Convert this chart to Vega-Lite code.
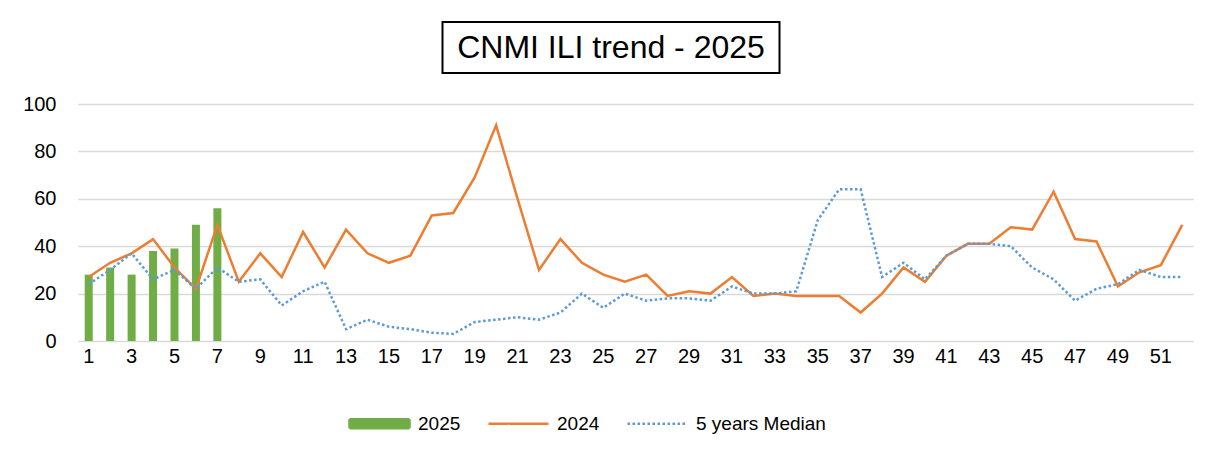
{
  "$schema": "https://vega.github.io/schema/vega-lite/v6.json",
  "background": "white",
  "padding": {"top": 21, "left": 22, "right": 20, "bottom": 5},
  "config": {"font": "Liberation Sans", "view": {"stroke": null}},
  "center": true,
  "spacing": 20,
  "vconcat": [
    {
      "spacing": 0,
      "hconcat": [
        {
          "width": 337,
          "height": 51,
          "view": {"stroke": "#000", "strokeWidth": 2},
          "data": {"values": [{"t": "CNMI ILI trend - 2025"}]},
          "mark": {"type": "text", "font": "Liberation Sans", "fontSize": 32, "color": "#000", "align": "center", "baseline": "middle"},
          "encoding": {"text": {"field": "t"}}
        },
        {
          "width": 48,
          "height": 51,
          "data": {"values": [{"t": ""}]},
          "mark": {"type": "text"},
          "encoding": {"text": {"field": "t"}}
        }
      ]
    },
    {
      "width": 1115,
      "height": 237,
      "data": {"values": [
        {"week": 1, "y2025": 28, "y2024": 27, "median": 24},
        {"week": 2, "y2025": 31, "y2024": 33, "median": 30},
        {"week": 3, "y2025": 28, "y2024": 37, "median": 37},
        {"week": 4, "y2025": 38, "y2024": 43, "median": 26},
        {"week": 5, "y2025": 39, "y2024": 31, "median": 30},
        {"week": 6, "y2025": 49, "y2024": 22, "median": 22},
        {"week": 7, "y2025": 56, "y2024": 49, "median": 31},
        {"week": 8, "y2025": null, "y2024": 25, "median": 25},
        {"week": 9, "y2025": null, "y2024": 37, "median": 26},
        {"week": 10, "y2025": null, "y2024": 27, "median": 15},
        {"week": 11, "y2025": null, "y2024": 46, "median": 21},
        {"week": 12, "y2025": null, "y2024": 31, "median": 25},
        {"week": 13, "y2025": null, "y2024": 47, "median": 5},
        {"week": 14, "y2025": null, "y2024": 37, "median": 9},
        {"week": 15, "y2025": null, "y2024": 33, "median": 6},
        {"week": 16, "y2025": null, "y2024": 36, "median": 5},
        {"week": 17, "y2025": null, "y2024": 53, "median": 3.5},
        {"week": 18, "y2025": null, "y2024": 54, "median": 3},
        {"week": 19, "y2025": null, "y2024": 69, "median": 8},
        {"week": 20, "y2025": null, "y2024": 91, "median": 9},
        {"week": 21, "y2025": null, "y2024": 60, "median": 10},
        {"week": 22, "y2025": null, "y2024": 30, "median": 9},
        {"week": 23, "y2025": null, "y2024": 43, "median": 12},
        {"week": 24, "y2025": null, "y2024": 33, "median": 20},
        {"week": 25, "y2025": null, "y2024": 28, "median": 14},
        {"week": 26, "y2025": null, "y2024": 25, "median": 20},
        {"week": 27, "y2025": null, "y2024": 28, "median": 17},
        {"week": 28, "y2025": null, "y2024": 19, "median": 18},
        {"week": 29, "y2025": null, "y2024": 21, "median": 18},
        {"week": 30, "y2025": null, "y2024": 20, "median": 17},
        {"week": 31, "y2025": null, "y2024": 27, "median": 23},
        {"week": 32, "y2025": null, "y2024": 19, "median": 20},
        {"week": 33, "y2025": null, "y2024": 20, "median": 20},
        {"week": 34, "y2025": null, "y2024": 19, "median": 21},
        {"week": 35, "y2025": null, "y2024": 19, "median": 51},
        {"week": 36, "y2025": null, "y2024": 19, "median": 64},
        {"week": 37, "y2025": null, "y2024": 12, "median": 64},
        {"week": 38, "y2025": null, "y2024": 20, "median": 27},
        {"week": 39, "y2025": null, "y2024": 31, "median": 33},
        {"week": 40, "y2025": null, "y2024": 25, "median": 26},
        {"week": 41, "y2025": null, "y2024": 36, "median": 36},
        {"week": 42, "y2025": null, "y2024": 41, "median": 41},
        {"week": 43, "y2025": null, "y2024": 41, "median": 41},
        {"week": 44, "y2025": null, "y2024": 48, "median": 40},
        {"week": 45, "y2025": null, "y2024": 47, "median": 31},
        {"week": 46, "y2025": null, "y2024": 63, "median": 26},
        {"week": 47, "y2025": null, "y2024": 43, "median": 17},
        {"week": 48, "y2025": null, "y2024": 42, "median": 22},
        {"week": 49, "y2025": null, "y2024": 23, "median": 24},
        {"week": 50, "y2025": null, "y2024": 29, "median": 30},
        {"week": 51, "y2025": null, "y2024": 32, "median": 27},
        {"week": 52, "y2025": null, "y2024": 49, "median": 27}
      ]},
      "encoding": {
        "x": {
          "field": "week",
          "type": "ordinal",
          "scale": {"paddingInner": 0, "paddingOuter": 0},
          "axis": {
            "title": null,
            "values": [1,3,5,7,9,11,13,15,17,19,21,23,25,27,29,31,33,35,37,39,41,43,45,47,49,51],
            "labelAngle": 0,
            "domain": false,
            "ticks": false,
            "grid": false,
            "labelFontSize": 20,
            "labelColor": "#000",
            "labelPadding": 5
          }
        }
      },
      "layer": [
        {
          "mark": {"type": "bar", "size": 8},
          "encoding": {
            "y": {
              "field": "y2025",
              "type": "quantitative",
              "scale": {"domain": [0, 100]},
              "axis": {
                "title": null,
                "values": [0, 20, 40, 60, 80, 100],
                "grid": true,
                "gridColor": "#d9d9d9",
                "gridWidth": 1.5,
                "domain": false,
                "ticks": false,
                "labelFontSize": 20,
                "labelColor": "#000",
                "labelPadding": 22
              }
            },
            "color": {
              "datum": "2025",
              "scale": {"domain": ["2025", "2024", "5 years Median"], "range": ["#70AD47", "#ED7D31", "#5B9BD5"]},
              "legend": {
                "title": null,
                "orient": "none",
                "legendX": 270,
                "legendY": 370,
                "direction": "horizontal",
                "padding": 0,
                "symbolSize": 3600,
                "labelOffset": 7,
                "columnPadding": 22,
                "labelFontSize": 19,
                "labelColor": "#000",
                "labelFont": "Liberation Sans",
                "encode": {
                  "symbols": {
                    "update": {
                      "shape": {"signal": "datum.value === '2025' ? 'M-1,-0.15H1V0.15H-1Z' : 'M-1,0H1'"},
                      "fill": {"signal": "datum.value === '2025' ? '#70AD47' : 'transparent'"},
                      "stroke": {"signal": "datum.value === '2025' ? 'transparent' : (datum.value === '2024' ? '#ED7D31' : '#5B9BD5')"},
                      "strokeWidth": {"value": 2.5},
                      "strokeDash": {"signal": "datum.value === '5 years Median' ? [2.5, 2.5] : [1, 0]"},
                      "opacity": {"value": 1}
                    }
                  }
                }
              }
            }
          }
        },
        {
          "mark": {"type": "line", "strokeWidth": 2.5},
          "encoding": {
            "y": {"field": "y2024", "type": "quantitative"},
            "color": {"datum": "2024"}
          }
        },
        {
          "mark": {"type": "line", "strokeWidth": 2.5, "strokeDash": [2.5, 2.5]},
          "encoding": {
            "y": {"field": "median", "type": "quantitative"},
            "color": {"datum": "5 years Median"}
          }
        }
      ]
    }
  ]
}
